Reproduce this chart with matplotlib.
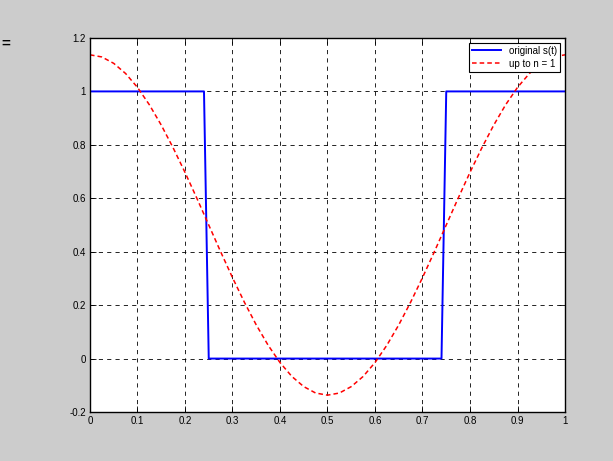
import numpy as np
import matplotlib.pyplot as plt

plt.rcParams['font.family'] = ['Liberation Sans', 'DejaVu Sans']

# original square wave s(t), corner points
t_orig = [0, 0.24, 0.25, 0.74, 0.75, 1.0]
s_orig = [1, 1, 0, 0, 1, 1]

# partial sum up to n = 1
t_fit = [0, 0.025, 0.05, 0.075, 0.1, 0.125, 0.15, 0.175, 0.2, 0.225,
         0.25, 0.275, 0.3, 0.325, 0.35, 0.375, 0.4, 0.425, 0.45, 0.475,
         0.5, 0.525, 0.55, 0.575, 0.6, 0.625, 0.65, 0.675, 0.7, 0.725,
         0.75, 0.775, 0.8, 0.825, 0.85, 0.875, 0.9, 0.925, 0.95, 0.975, 1.0]
s_fit = [1.137, 1.129, 1.105, 1.067, 1.015, 0.950, 0.874, 0.789, 0.697, 0.600,
         0.500, 0.400, 0.303, 0.211, 0.126, 0.050, -0.015, -0.067, -0.105, -0.129,
         -0.137, -0.129, -0.105, -0.067, -0.015, 0.050, 0.126, 0.211, 0.303, 0.400,
         0.500, 0.600, 0.697, 0.789, 0.874, 0.950, 1.015, 1.067, 1.105, 1.129, 1.137]

xticks = [0, 0.1, 0.2, 0.3, 0.4, 0.5, 0.6, 0.7, 0.8, 0.9, 1]
yticks = [-0.2, 0, 0.2, 0.4, 0.6, 0.8, 1, 1.2]

fig = plt.figure(figsize=(6.13, 4.61), dpi=100, facecolor='#cccccc')
ax = fig.add_axes([0.1468, 0.1063, 0.7749, 0.8113])

ax.plot(t_orig, s_orig, color='#0000ff', lw=1.4, label='original s(t)')
ax.plot(t_fit, s_fit, color='#ff0000', lw=1.1, ls=(0, (3, 2)), label='up to n = 1')

ax.set_xlim(0, 1)
ax.set_ylim(-0.2, 1.2)
ax.set_xticks(xticks)
ax.set_xticklabels(['0', '0.1', '0.2', '0.3', '0.4', '0.5', '0.6', '0.7', '0.8', '0.9', '1'])
ax.set_yticks(yticks)
ax.set_yticklabels(['-0.2', '0', '0.2', '0.4', '0.6', '0.8', '1', '1.2'])
ax.tick_params(direction='in', top=True, right=True, labelsize=7, length=4, width=0.6, pad=3)
ax.grid(True, color='black', ls=(0, (5, 5)), lw=0.6)
for sp in ax.spines.values():
    sp.set_linewidth(1.0)

leg = ax.legend(loc='upper right', fontsize=7, fancybox=False, framealpha=1,
                edgecolor='black', borderaxespad=0.5, borderpad=0.3,
                handlelength=3, labelspacing=0.3)
leg.get_frame().set_linewidth(0.8)

fig.text(0.002, 0.905, '=', fontsize=11, fontweight='bold', ha='left', va='center')

fig.savefig('out.png', dpi=100, facecolor=fig.get_facecolor())
